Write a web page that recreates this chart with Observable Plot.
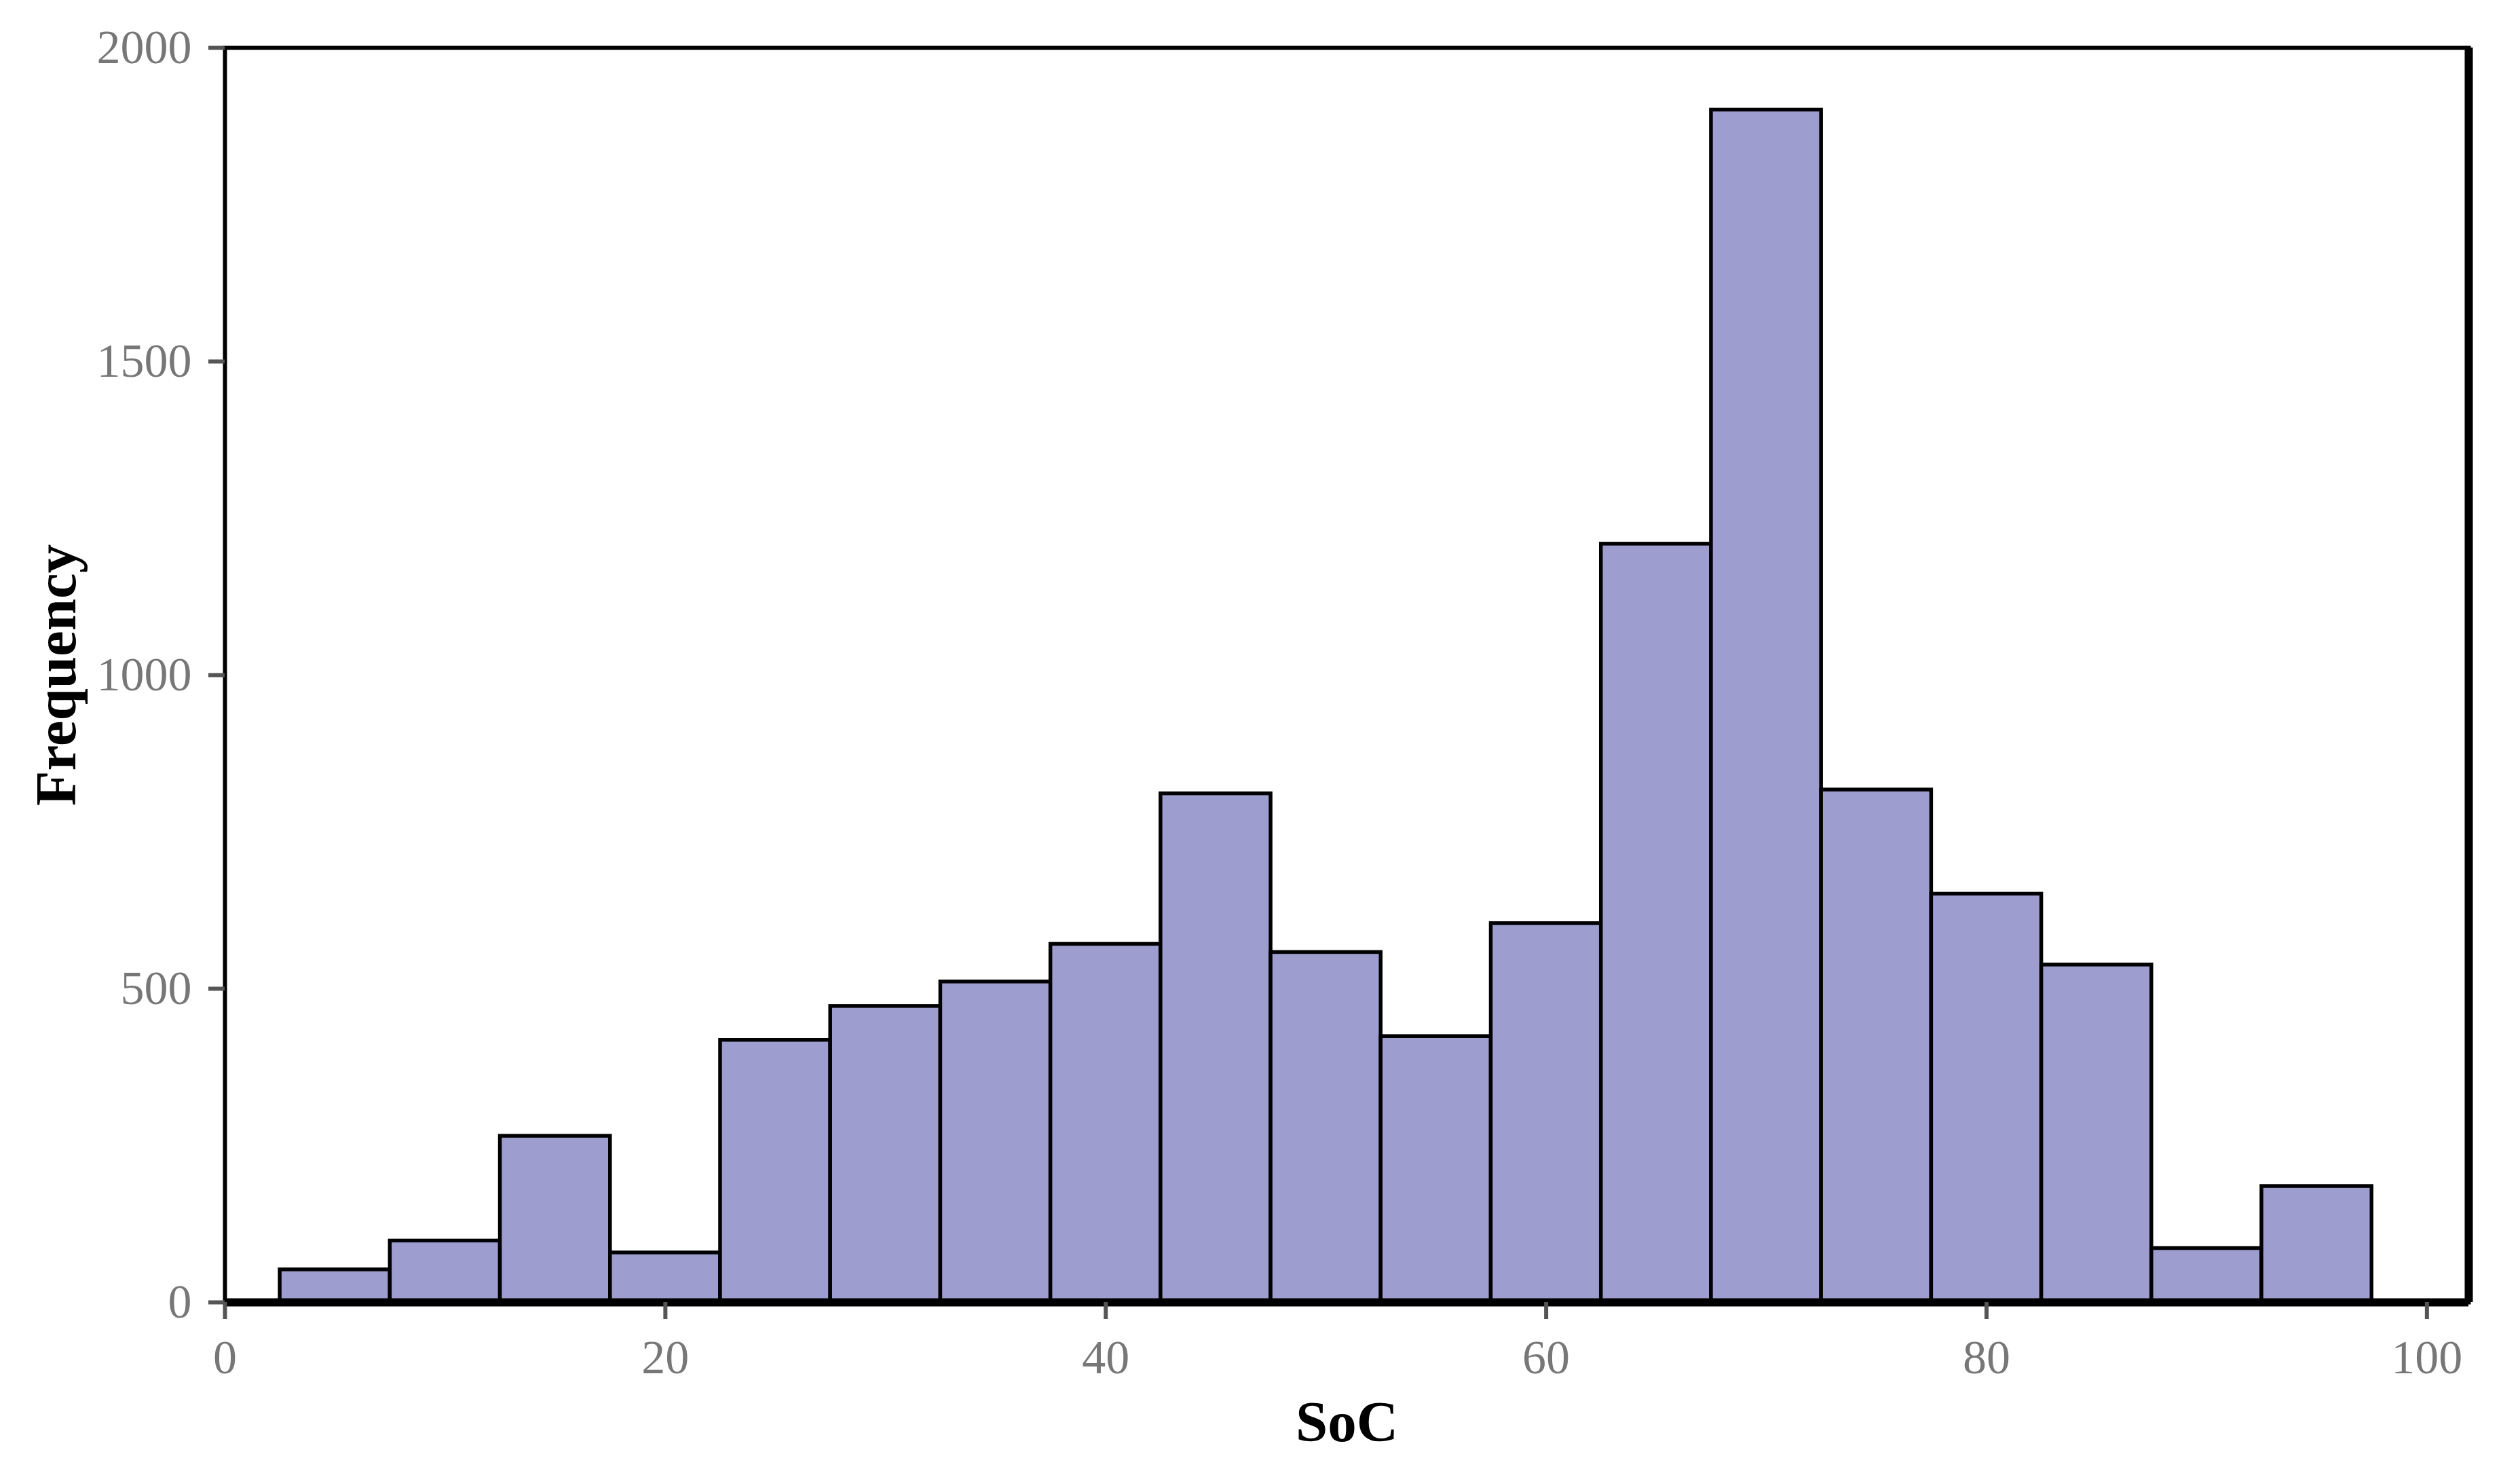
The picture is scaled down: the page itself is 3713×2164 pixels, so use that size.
<!DOCTYPE html>
<html>
<head>
<meta charset="utf-8">
<script src="https://cdn.jsdelivr.net/npm/d3@7"></script>
<script src="https://cdn.jsdelivr.net/npm/@observablehq/plot@0.6"></script>
<style>
  html, body { margin: 0; padding: 0; background: #ffffff; }
  #chart svg { display: block; }
</style>
</head>
<body>
<div id="chart"></div>
<script>
// Histogram of SoC: bin centres (bin width 5) and counts
const binCenters = [5, 10, 15, 20, 25, 30, 35, 40, 45, 50, 55, 60, 65, 70, 75, 80, 85, 90, 95];
const counts     = [52, 98, 265, 79, 418, 472, 511, 571, 811, 558, 424, 604, 1209, 1901, 817, 651, 538, 86, 185];
const binWidth = 5;
const xTicks = [0, 20, 40, 60, 80, 100];
const yTicks = [0, 500, 1000, 1500, 2000];
const xDomain = [0, 101.9];
const yDomain = [0, 2000];

const bins = binCenters.map((c, i) => ({x1: c - binWidth / 2, x2: c + binWidth / 2, count: counts[i]}));

const chart = Plot.plot({
  width: 3713,
  height: 2164,
  marginLeft: 331,
  marginRight: 76,
  marginTop: 70,
  marginBottom: 246,
  style: {fontFamily: "'Liberation Serif', 'DejaVu Serif', serif", background: "#ffffff"},
  x: {domain: xDomain},
  y: {domain: yDomain},
  marks: [
    Plot.rectY(bins, {x1: "x1", x2: "x2", y: "count", fill: "#9d9dcf", stroke: "#000000", strokeWidth: 5.5}),
    Plot.frame({stroke: "#000000", strokeWidth: 6}),
    Plot.ruleY([yDomain[0]], {stroke: "#000000", strokeWidth: 12}),
    Plot.ruleX([xDomain[1]], {stroke: "#000000", strokeWidth: 12}),
    Plot.axisX({ticks: xTicks, tickFormat: d => String(d), tickSize: 25, tickPadding: 30, stroke: "#555555", strokeWidth: 6, fill: "#777777", fontSize: 70, label: null}),
    Plot.axisY({ticks: yTicks, tickFormat: d => String(d), tickSize: 24, tickPadding: 25, stroke: "#555555", strokeWidth: 6, fill: "#777777", fontSize: 70, label: null}),
    Plot.axisX({ticks: [], tickSize: 0, label: "SoC", labelAnchor: "center", labelArrow: "none", labelOffset: 204, fontSize: 85, fontWeight: "bold", fill: "#000000"}),
    Plot.axisY({ticks: [], tickSize: 0, label: "Frequency", labelAnchor: "center", labelArrow: "none", labelOffset: 281, fontSize: 85, fontWeight: "bold", fill: "#000000"})
  ]
});
document.getElementById("chart").appendChild(chart);
</script>
</body>
</html>
